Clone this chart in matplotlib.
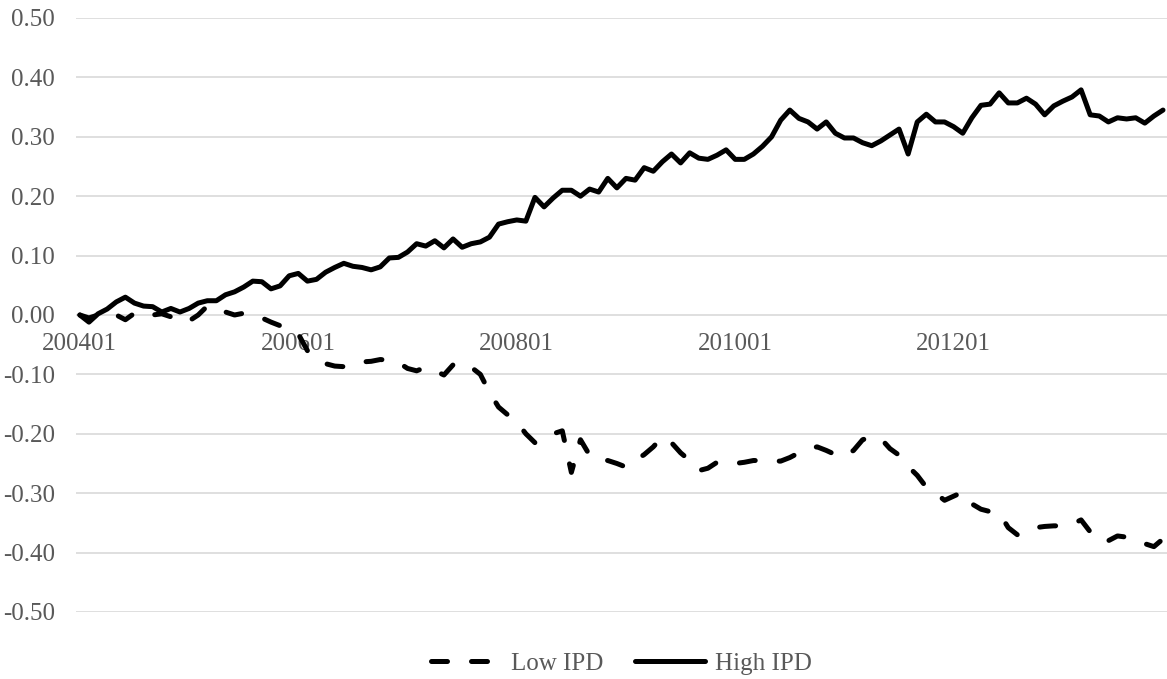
import matplotlib
matplotlib.use("Agg")
import matplotlib.pyplot as plt
import numpy as np

# monthly, 200401 .. 201312
months = [f"{y}{m:02d}" for y in range(2004, 2014) for m in range(1, 13)]

high_ipd = [
    0.000, -0.012, 0.002, 0.010, 0.022, 0.030, 0.020, 0.015, 0.014, 0.005,
    0.011, 0.005, 0.011, 0.020, 0.024, 0.024, 0.034, 0.039, 0.047, 0.057,
    0.056, 0.044, 0.049, 0.066, 0.070, 0.057, 0.060, 0.072, 0.080, 0.087,
    0.082, 0.080, 0.076, 0.081, 0.096, 0.097, 0.106, 0.120, 0.116, 0.125,
    0.113, 0.128, 0.114, 0.120, 0.123, 0.131, 0.153, 0.157, 0.160, 0.158,
    0.198, 0.182, 0.197, 0.210, 0.210, 0.200, 0.212, 0.207, 0.230, 0.214,
    0.230, 0.227, 0.248, 0.242, 0.258, 0.271, 0.256, 0.273, 0.264, 0.262,
    0.269, 0.278, 0.262, 0.262, 0.271, 0.284, 0.300, 0.328, 0.345, 0.331,
    0.325, 0.313, 0.325, 0.306, 0.298, 0.298, 0.290, 0.285, 0.293, 0.303,
    0.313, 0.271, 0.325, 0.338, 0.325, 0.325, 0.317, 0.306, 0.332, 0.353,
    0.355, 0.374, 0.357, 0.357, 0.365, 0.355, 0.337, 0.352, 0.360, 0.367,
    0.379, 0.337, 0.335, 0.325, 0.332, 0.330, 0.332, 0.323, 0.335, 0.345,
]

low_ipd = [
    0.000, -0.005, 0.000, 0.003, 0.000, -0.008, 0.003, 0.005, 0.000, 0.002,
    -0.003, -0.012, -0.010, 0.000, 0.015, 0.012, 0.005, 0.000, 0.003, 0.000,
    -0.005, -0.012, -0.018, -0.022, -0.032, -0.060, -0.072, -0.082, -0.086, -0.087,
    -0.085, -0.079, -0.078, -0.075, -0.076, -0.080, -0.090, -0.094, -0.088, -0.094,
    -0.101, -0.084, -0.080, -0.088, -0.100, -0.130, -0.155, -0.168, -0.180, -0.200,
    -0.215, -0.205, -0.200, -0.195, -0.265, -0.210, -0.236, -0.245, -0.245, -0.250,
    -0.256, -0.245, -0.235, -0.222, -0.205, -0.215, -0.232, -0.245, -0.262, -0.258,
    -0.248, -0.250, -0.250, -0.248, -0.245, -0.245, -0.246, -0.246, -0.240, -0.232,
    -0.225, -0.222, -0.228, -0.235, -0.238, -0.228, -0.210, -0.205, -0.208, -0.225,
    -0.236, -0.255, -0.270, -0.290, -0.300, -0.312, -0.305, -0.298, -0.318, -0.327,
    -0.331, -0.333, -0.358, -0.370, -0.362, -0.358, -0.356, -0.355, -0.355, -0.352,
    -0.345, -0.365, -0.380, -0.380, -0.372, -0.374, -0.378, -0.385, -0.390, -0.377,
]

yticks = [0.5, 0.4, 0.3, 0.2, 0.1, 0.0, -0.1, -0.2, -0.3, -0.4, -0.5]
label_every = 24

plt.rcParams["font.family"] = ["Liberation Serif", "DejaVu Serif"]
grey = "#595959"

fig = plt.figure(figsize=(11.67, 6.79), dpi=100)
ax = fig.add_axes([0.065, 0.0987, 0.935, 0.8748])

x = np.arange(len(months))
ax.plot(x, low_ipd, color="black", lw=3.6, ls=(0, (3.2, 4.8)),
        dash_capstyle="round", dash_joinstyle="round", label="Low IPD")
ax.plot(x, high_ipd, color="black", lw=3.6,
        solid_capstyle="round", solid_joinstyle="round", label="High IPD")

ax.set_xlim(-0.44, len(months) - 1 + 0.44)
ax.set_ylim(-0.5, 0.5)
ax.set_yticks(yticks)
ax.set_yticklabels([f"{v:.2f}" for v in yticks])
ax.yaxis.grid(True, color="#d9d9d9", lw=1.2)
ax.set_axisbelow(True)

ax.set_xticks(x[::label_every])
ax.set_xticklabels(months[::label_every])
ax.spines["bottom"].set_position(("data", 0))
for s in ax.spines.values():
    s.set_visible(False)
ax.tick_params(axis="both", length=0, labelsize=18, labelcolor=grey)
ax.tick_params(axis="x", pad=13)
ax.tick_params(axis="y", pad=15)

ax.legend(loc="upper center", bbox_to_anchor=(0.5, -0.03), ncol=2, frameon=False,
          fontsize=18, labelcolor=grey, handlelength=2.8, handletextpad=0.4,
          columnspacing=1.3)

fig.savefig("out.png", dpi=100)
